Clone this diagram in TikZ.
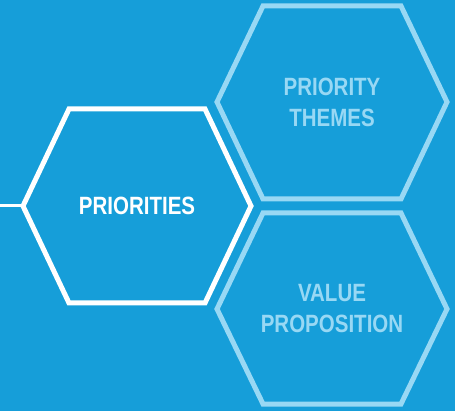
\documentclass[tikz,border=0pt]{standalone}
\usepackage{fontspec}
\newfontfamily\hexfont{Liberation Sans}[FakeStretch=0.82]
\definecolor{bgblue}{RGB}{22,158,217}
\definecolor{paleblue}{RGB}{152,216,244}
\tikzset{
  hexline/.style={line width=5pt, line join=miter},
  hexlabel/.style={font=\hexfont\bfseries\fontsize{25}{31}\selectfont, align=center, inner sep=0pt},
}

\begin{document}
\begin{tikzpicture}[x=1pt, y=-1pt]
      \fill[bgblue] (0,0) rectangle (455,411);
      \useasboundingbox (0,0) rectangle (455,411);

      % left hexagon
      \begin{scope}[shift={(137,206)}]
        \draw[hexline, white] (-114,0)--(-68,-97)--(68,-97)--(114,0)--(68,97)--(-68,97)--cycle;
        \coordinate (prio-tip) at (-114,0);
        \node[hexlabel, white] (prio) at (0,0) {PRIORITIES};
      \end{scope}

      % upper right hexagon
      \begin{scope}[shift={(332,102)}]
        \draw[hexline, paleblue] (-115,0)--(-69,-96)--(69,-96)--(115,0)--(69,97)--(-69,97)--cycle;
        \node[hexlabel, paleblue] (themes) at (0,0) {PRIORITY\\THEMES};
      \end{scope}

      % lower right hexagon
      \begin{scope}[shift={(332,309)}]
        \draw[hexline, paleblue] (-115,0)--(-69,-96)--(69,-96)--(115,0)--(69,95)--(-69,95)--cycle;
        \node[hexlabel, paleblue] (value) at (0,0) {VALUE\\PROPOSITION};
      \end{scope}

      \coordinate (edge) at (0,206);
      \draw[white, line width=3pt] (edge)--(prio-tip);
    \end{tikzpicture}
\end{document}
